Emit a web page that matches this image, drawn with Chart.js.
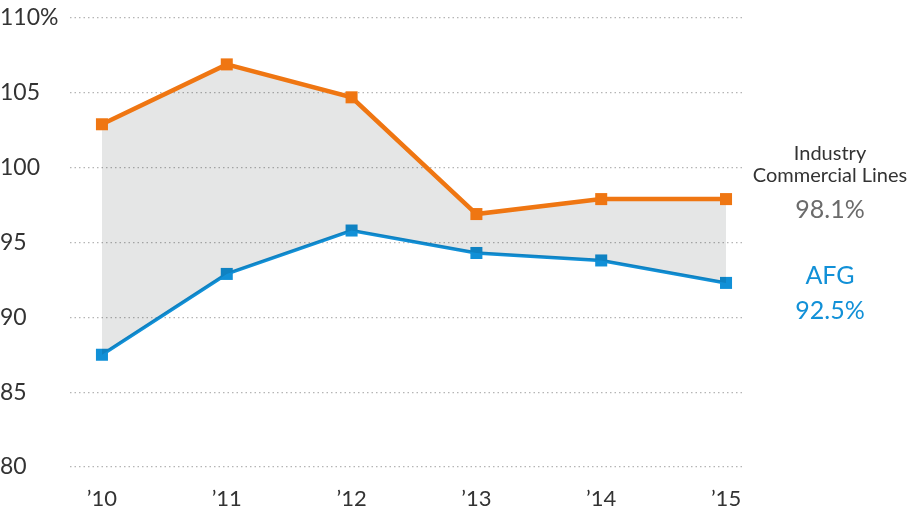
<!DOCTYPE html>
<html>
<head>
<meta charset="utf-8">
<script src="https://cdn.jsdelivr.net/npm/chart.js@4"></script>
<style>
  html, body { margin: 0; padding: 0; background: #fff; }
  #wrap { position: relative; width: 923px; height: 510px; }
</style>
</head>
<body>
<div id="wrap"><canvas id="chart" width="923" height="510"></canvas></div>
<script>
const years = ['\u201910', '\u201911', '\u201912', '\u201913', '\u201914', '\u201915'];
const industry = [102.9, 106.9, 104.7, 96.9, 97.9, 97.9];
const afg = [87.5, 92.9, 95.8, 94.3, 93.8, 92.3];
const yTicks = [80, 85, 90, 95, 100, 105, 110];
const industryLabel = ['Industry', 'Commercial Lines', '98.1%'];
const afgLabel = ['AFG', '92.5%'];

const ORANGE = '#ef7612';
const BLUE = '#1190d7';
const FONT = 'Lato, "Open Sans", sans-serif';

const toPoints = vals => vals.map((v, i) => ({ x: i, y: v }));

const sideLabels = {
    id: 'sideLabels',
    afterDraw(chart) {
        const ctx = chart.ctx;
        const cx = 830;
        ctx.save();
        ctx.textAlign = 'center';
        ctx.textBaseline = 'middle';
        ctx.fillStyle = '#333';
        ctx.font = '20px ' + FONT;
        ctx.fillText(industryLabel[0], cx, 154);
        ctx.fillText(industryLabel[1], cx, 176);
        ctx.fillStyle = '#6b6b6b';
        ctx.font = '25px ' + FONT;
        ctx.fillText(industryLabel[2], cx, 210);
        ctx.fillStyle = BLUE;
        ctx.fillText(afgLabel[0], cx, 276);
        ctx.fillText(afgLabel[1], cx, 311);
        ctx.restore();
    }
};

new Chart(document.getElementById('chart'), {
    type: 'line',
    data: {
        datasets: [
            {
                label: 'Industry Commercial Lines',
                data: toPoints(industry),
                borderColor: ORANGE,
                backgroundColor: 'rgba(0, 10, 10, 0.1)',
                borderWidth: 4.5,
                pointStyle: 'rect',
                pointRadius: 8.5,
                pointBackgroundColor: ORANGE,
                pointBorderWidth: 0,
                fill: '+1',
                tension: 0
            },
            {
                label: 'AFG',
                data: toPoints(afg),
                borderColor: BLUE,
                borderWidth: 3.5,
                pointStyle: 'rect',
                pointRadius: 8.5,
                pointBackgroundColor: BLUE,
                pointBorderWidth: 0,
                fill: false,
                tension: 0
            }
        ]
    },
    options: {
        responsive: false,
        animation: false,
        layout: { padding: { top: 18, right: 178, left: 0, bottom: 0 } },
        plugins: {
            legend: { display: false },
            tooltip: { enabled: false }
        },
        scales: {
            x: {
                type: 'linear',
                min: -0.256,
                max: 5.152,
                afterBuildTicks: axis => {
                    axis.ticks = years.map((_, i) => ({ value: i }));
                },
                afterFit: axis => {
                    axis.height = 43;
                    axis.paddingLeft = 0;
                    axis.paddingRight = 0;
                },
                grid: { display: false },
                border: { display: false },
                ticks: {
                    padding: 11,
                    color: '#333',
                    font: { family: FONT, size: 22 },
                    callback: v => years[v]
                }
            },
            y: {
                min: 80,
                max: 110,
                afterBuildTicks: axis => {
                    axis.ticks = yTicks.map(v => ({ value: v }));
                },
                afterFit: axis => {
                    axis.width = 70;
                    axis.paddingTop = 0;
                    axis.paddingBottom = 0;
                },
                grid: {
                    color: '#b5b5b5',
                    lineWidth: 1.2,
                    drawTicks: false
                },
                border: { display: false, dash: [1.5, 3] },
                ticks: {
                    crossAlign: 'far',
                    padding: 10,
                    color: '#333',
                    font: { family: FONT, size: 23 },
                    callback: v => v === 110 ? v + '%' : v
                }
            }
        }
    },
    plugins: [sideLabels]
});
</script>
</body>
</html>
